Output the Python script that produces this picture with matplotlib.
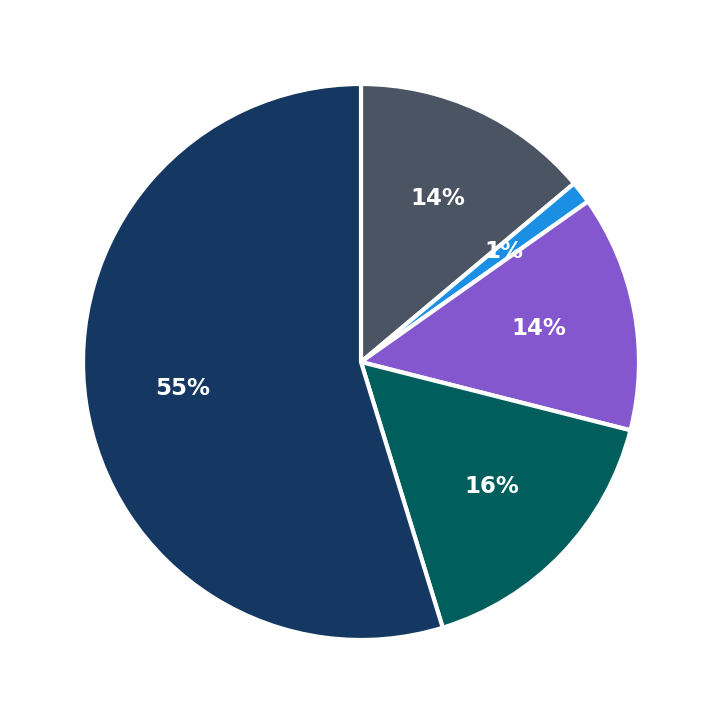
import matplotlib
matplotlib.use("Agg")
import matplotlib.pyplot as plt

labels = ["A", "B", "C", "D", "E"]
values = [13.9, 1.3, 13.75, 16.3, 54.75]
colors = ["#4a5462", "#1a8fe3", "#8557cf", "#005f5c", "#143861"]

fig = plt.figure(figsize=(7.23, 7.23), dpi=100)
ax = fig.add_axes([83/723, 83/723, 556/723, 556/723])
wedges, texts, autotexts = ax.pie(
    values, colors=colors, startangle=90, counterclock=False,
    autopct="%1.0f%%", pctdistance=0.65,
    wedgeprops=dict(edgecolor="white", linewidth=3),
    textprops=dict(color="white", fontsize=16.5, fontweight="bold"),
)
ax.set_xlim(-1, 1)
ax.set_ylim(-1, 1)
ax.set_aspect("equal")
fig.savefig("out.png", dpi=100)
